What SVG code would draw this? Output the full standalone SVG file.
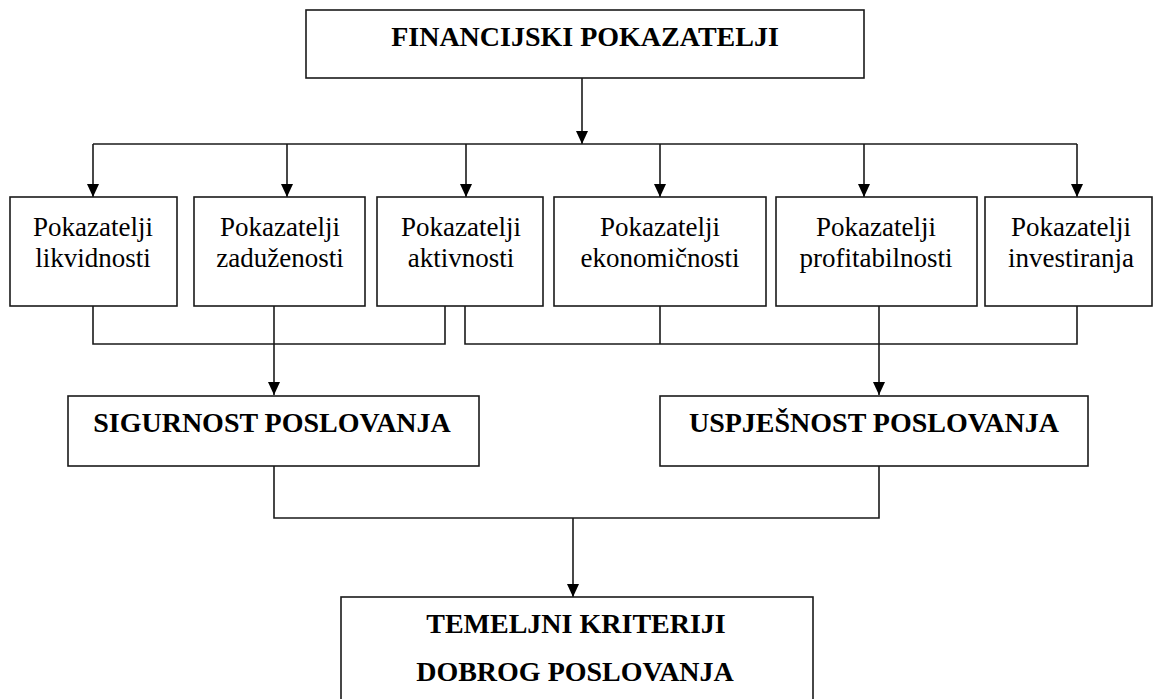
<svg xmlns="http://www.w3.org/2000/svg" width="1154" height="699" viewBox="0 0 1154 699">
  <defs>
    <marker id="arr" markerUnits="userSpaceOnUse" viewBox="0 -7 14 14" refX="13" refY="0" markerWidth="14" markerHeight="14" orient="auto">
      <path d="M0,-6 L13,0 L0,6 z" fill="#000"/>
    </marker>
    <style>
      .box { fill: #fff; stroke: #1a1a1a; stroke-width: 1.6; }
      .ln { fill: none; stroke: #1a1a1a; stroke-width: 1.6; }
      .t { font-family: "Liberation Serif", "Times New Roman", serif; font-size: 27px; fill: #000; text-anchor: middle; }
      .tb { font-family: "Liberation Serif", "Times New Roman", serif; font-size: 28px; font-weight: bold; fill: #000; text-anchor: middle; }
    </style>
  </defs>
  <rect width="1154" height="699" fill="#fff"/>

  <g id="connectors">
    <line class="ln" x1="582" y1="78" x2="582" y2="144" marker-end="url(#arr)"/>
    <line class="ln" x1="93" y1="144" x2="1077" y2="144"/>
    <line class="ln" x1="93" y1="144" x2="93" y2="197" marker-end="url(#arr)"/>
    <line class="ln" x1="287" y1="144" x2="287" y2="197" marker-end="url(#arr)"/>
    <line class="ln" x1="466" y1="144" x2="466" y2="197" marker-end="url(#arr)"/>
    <line class="ln" x1="660" y1="144" x2="660" y2="197" marker-end="url(#arr)"/>
    <line class="ln" x1="864" y1="144" x2="864" y2="197" marker-end="url(#arr)"/>
    <line class="ln" x1="1077" y1="144" x2="1077" y2="197" marker-end="url(#arr)"/>
    <path class="ln" d="M93,306 V344 H445 V306"/>
    <path class="ln" d="M465,306 V344 H1077 V306 M660,306 V344"/>
    <line class="ln" x1="274" y1="306" x2="274" y2="395" marker-end="url(#arr)"/>
    <line class="ln" x1="879" y1="306" x2="879" y2="395" marker-end="url(#arr)"/>
    <path class="ln" d="M274,466 V518 H879 V466"/>
    <line class="ln" x1="573" y1="518" x2="573" y2="597" marker-end="url(#arr)"/>
  </g>

  <g id="financijski">
    <rect class="box" x="306" y="10" width="558" height="68"/>
    <text class="tb" x="585" y="46">FINANCIJSKI POKAZATELJI</text>
  </g>

  <g id="likvidnosti">
    <rect class="box" x="10" y="197" width="167" height="109"/>
    <text class="t" x="93" y="236">Pokazatelji</text>
    <text class="t" x="93" y="267">likvidnosti</text>
  </g>
  <g id="zaduzenosti">
    <rect class="box" x="194" y="197" width="171" height="109"/>
    <text class="t" x="280" y="236">Pokazatelji</text>
    <text class="t" x="280" y="267">zaduženosti</text>
  </g>
  <g id="aktivnosti">
    <rect class="box" x="377" y="197" width="166" height="109"/>
    <text class="t" x="461" y="236">Pokazatelji</text>
    <text class="t" x="461" y="267">aktivnosti</text>
  </g>
  <g id="ekonomicnosti">
    <rect class="box" x="554" y="197" width="212" height="109"/>
    <text class="t" x="660" y="236">Pokazatelji</text>
    <text class="t" x="660" y="267">ekonomičnosti</text>
  </g>
  <g id="profitabilnosti">
    <rect class="box" x="776" y="197" width="201" height="109"/>
    <text class="t" x="876" y="236">Pokazatelji</text>
    <text class="t" x="876" y="267">profitabilnosti</text>
  </g>
  <g id="investiranja">
    <rect class="box" x="985" y="197" width="167" height="109"/>
    <text class="t" x="1071" y="236">Pokazatelji</text>
    <text class="t" x="1071" y="267">investiranja</text>
  </g>

  <g id="sigurnost">
    <rect class="box" x="68" y="396" width="411" height="70"/>
    <text class="tb" x="272" y="432">SIGURNOST POSLOVANJA</text>
  </g>
  <g id="uspjesnost">
    <rect class="box" x="660" y="396" width="428" height="70"/>
    <text class="tb" x="874" y="432">USPJEŠNOST POSLOVANJA</text>
  </g>

  <g id="temeljni">
    <rect class="box" x="341" y="597" width="472" height="130"/>
    <text class="tb" x="576" y="633">TEMELJNI KRITERIJI</text>
    <text class="tb" x="575" y="681">DOBROG POSLOVANJA</text>
  </g>
</svg>
